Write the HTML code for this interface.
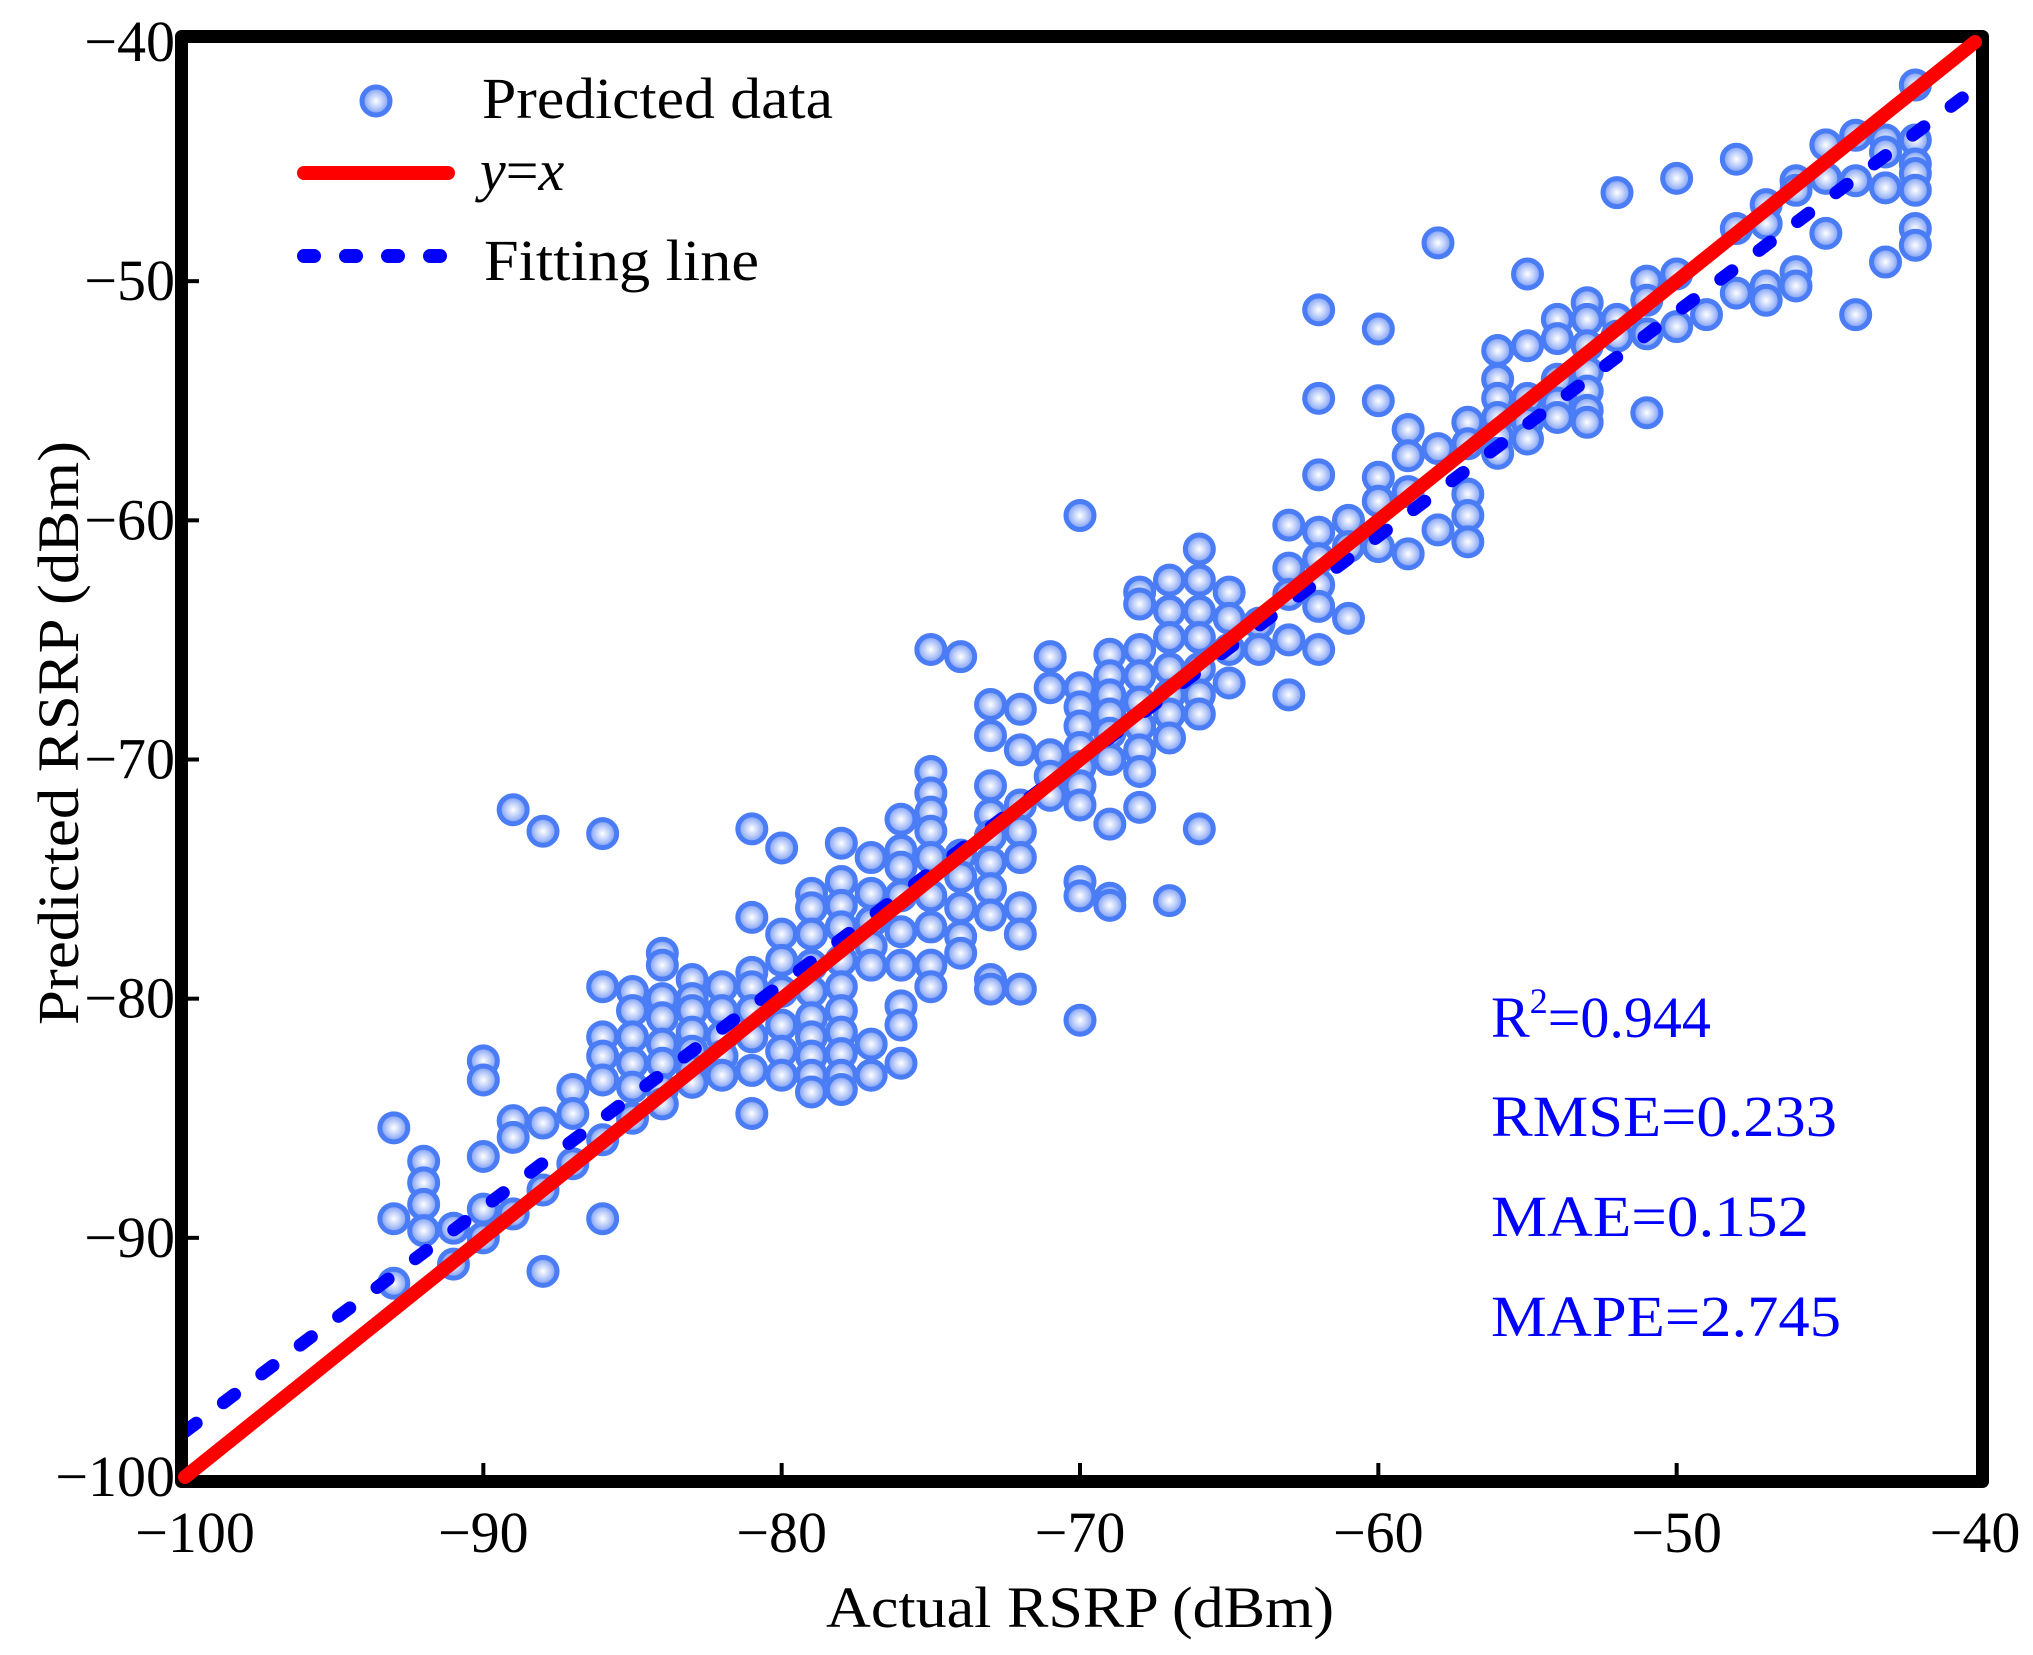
<!DOCTYPE html>
<html><head><meta charset="utf-8"><style>
html,body{margin:0;padding:0;background:#fff;}
svg{display:block;font-family:"Liberation Serif",serif;}
</style></head><body>
<svg id="chart" width="2033" height="1655" viewBox="0 0 2033 1655" xmlns="http://www.w3.org/2000/svg">
<defs>
<radialGradient id="mg" cx="50%" cy="50%" r="50%">
<stop offset="0" stop-color="#ffffff"/><stop offset="0.5" stop-color="#bccdfa"/><stop offset="1" stop-color="#6f95f5"/>
</radialGradient>
<clipPath id="plotclip"><rect x="185" y="42" width="1790" height="1435"/></clipPath>
</defs>
<g id="points" clip-path="url(#plotclip)"></g>
<g id="lines" clip-path="url(#plotclip)"></g>
<rect x="181.5" y="36.5" width="1801" height="1445" fill="none" stroke="#000" stroke-width="13" stroke-linejoin="round"/>
<g id="ticks"></g>
<text x="826" y="1627" font-size="58" textLength="508" lengthAdjust="spacingAndGlyphs">Actual RSRP (dBm)</text>
<text transform="translate(78,1025) rotate(-90)" font-size="58" textLength="584" lengthAdjust="spacingAndGlyphs">Predicted RSRP (dBm)</text>
<g>
<circle cx="376" cy="101" r="14" fill="url(#mg)" stroke="#4a7cf5" stroke-width="5"/>
<text x="482" y="118" font-size="58" textLength="351" lengthAdjust="spacingAndGlyphs">Predicted data</text>
<line x1="304" y1="173" x2="448" y2="173" stroke="#ff0000" stroke-width="14" stroke-linecap="round"/>
<text x="480" y="190" font-size="58" font-style="italic">y<tspan font-style="normal">=</tspan>x</text>
<line x1="304" y1="256" x2="448" y2="256" stroke="#0000ff" stroke-width="14" stroke-linecap="round" stroke-dasharray="10 32"/>
<text x="484" y="280" font-size="58" textLength="275" lengthAdjust="spacingAndGlyphs">Fitting line</text>
</g>
<g fill="#0000ff" font-size="58">
<text x="1491" y="1037">R<tspan font-size="36" dy="-24">2</tspan><tspan dy="24">=0.944</tspan></text>
<text x="1491" y="1136" textLength="346" lengthAdjust="spacingAndGlyphs">RMSE=0.233</text>
<text x="1491" y="1236" textLength="318" lengthAdjust="spacingAndGlyphs">MAE=0.152</text>
<text x="1491" y="1336" textLength="350" lengthAdjust="spacingAndGlyphs">MAPE=2.745</text>
</g>
</svg>
<script>
const xTicks = [-100,-90,-80,-70,-60,-50,-40];
const yTicks = [-100,-90,-80,-70,-60,-50,-40];
const xLabels = ["\u2212100","\u221290","\u221280","\u221270","\u221260","\u221250","\u221240"];
const yLabels = ["\u2212100","\u221290","\u221280","\u221270","\u221260","\u221250","\u221240"];
const fitSlope = 0.936;
const fitIntercept = -4.5;
const actualCols = [-93,-92,-91,-90,-89,-88,-87,-86,-85,-84,-83,-82,-81,-80,-79,-78,-77,-76,-75,-74,-73,-72,-71,-70,-69,-68,-67,-66,-65,-64,-63,-62,-61,-60,-59,-58,-57,-56,-55,-54,-53,-52,-51,-50,-49,-48,-47,-46,-45,-44,-43,-42];
const predictedCols = [
[-85.4,-89.2,-91.9],
[-86.8,-87.7,-88.6,-89.7],
[-89.6,-91.1],
[-82.6,-83.4,-86.6,-88.8,-90],
[-72.1,-85.1,-85.8,-89],
[-73,-85.2,-88,-91.4],
[-83.8,-84.8,-86.9],
[-73.1,-79.5,-81.6,-82.4,-83.4,-85.9,-89.2],
[-79.7,-80.5,-81.6,-82.7,-83.7,-85],
[-78.1,-78.6,-80,-80.8,-81.9,-82.7,-83.8,-84.4],
[-79.2,-80,-80.5,-81.4,-82.2,-83,-83.5],
[-79.5,-80.5,-81.6,-82.4,-83.2],
[-72.9,-76.6,-78.9,-79.5,-80.5,-81.6,-83,-84.8],
[-73.7,-77.3,-78.4,-79.7,-81.1,-82.2,-83.2],
[-75.6,-76.2,-77.3,-78.6,-79.7,-80.8,-81.6,-82.4,-83.2,-83.9],
[-73.5,-75.1,-76.1,-77,-78.4,-79.5,-80.5,-81.4,-82.3,-83.2,-83.8],
[-74.1,-75.6,-76.8,-77.8,-78.6,-81.9,-83.2],
[-72.5,-73.8,-74.5,-75.7,-77.2,-78.6,-80.3,-81.1,-82.7],
[-65.4,-70.5,-71.4,-72.2,-73,-74.1,-75.7,-77,-78.6,-79.5],
[-65.7,-74,-74.9,-76.2,-77.4,-78.1],
[-67.7,-69,-71.1,-72.3,-73.2,-74.3,-75.4,-76.5,-79.2,-79.6],
[-67.9,-69.6,-71.9,-73,-74.1,-76.2,-77.3,-79.6],
[-65.7,-67,-69.8,-70.7,-71.5],
[-59.8,-67,-67.8,-68.6,-69.5,-70.3,-71.1,-71.9,-75.1,-75.7,-80.9],
[-65.6,-66.5,-67.3,-68.1,-68.9,-70,-72.7,-75.8,-76.1],
[-63,-63.5,-65.4,-66.5,-67.6,-68.6,-69.6,-70.5,-72],
[-62.5,-63.8,-64.9,-66.2,-67.3,-68.1,-69.1,-75.9],
[-61.2,-62.5,-63.8,-64.9,-66.2,-67.3,-68.1,-72.9],
[-63,-64.1,-65.4,-66.8],
[-64.3,-65.4],
[-60.2,-62,-63.1,-65,-67.3],
[-51.2,-54.9,-58.1,-60.5,-61.6,-62.7,-63.6,-65.4],
[-60,-61.1,-64.1],
[-52,-55,-58.2,-59.2,-61.1],
[-56.2,-57.3,-58.8,-61.4],
[-48.4,-57,-60.4],
[-55.9,-56.8,-58.9,-59.8,-60.9],
[-52.9,-54.1,-54.9,-55.7,-56.5,-57.2],
[-49.7,-52.7,-54.9,-55.9,-56.6],
[-51.6,-52.4,-54.1,-55.1,-55.7],
[-50.9,-51.6,-52.7,-53.8,-54.6,-55.4,-55.9],
[-46.3,-51.6,-52.3],
[-50,-50.8,-52.2,-55.5],
[-45.7,-49.7,-51.9],
[-51.4],
[-44.9,-47.8,-50.5],
[-46.8,-47.6,-50.2,-50.8],
[-45.8,-46.2,-49.6,-50.2],
[-44.3,-45.7,-48],
[-43.9,-45.8,-51.4],
[-44.1,-44.6,-46.1,-49.2],
[-41.8,-44.1,-45.1,-45.5,-46.2,-47.8,-48.5]
];
const NS="http://www.w3.org/2000/svg";
const X0=185,X1=1975,Y0=1477,Y1=42,MIN=-100,MAX=-40;
function sx(v){return X0+(v-MIN)/(MAX-MIN)*(X1-X0);}
function sy(v){return Y0-(v-MIN)/(MAX-MIN)*(Y0-Y1);}
function mk(tag,attrs,parent){const e=document.createElementNS(NS,tag);for(const k in attrs)e.setAttribute(k,attrs[k]);parent.appendChild(e);return e;}
const pg=document.getElementById('points');
actualCols.forEach((ax,i)=>{predictedCols[i].forEach(pv=>{
  const c=mk('circle',{cx:sx(ax),cy:sy(pv),r:14,fill:'url(#mg)',stroke:'#4a7cf5','stroke-width':5},pg);
  
  
});});
const lg=document.getElementById('lines');
const fit=mk('line',{x1:sx(-100),y1:sy(fitSlope*-100+fitIntercept),x2:sx(-40),y2:sy(fitSlope*-40+fitIntercept),stroke:'#0000ff','stroke-width':13,'stroke-linecap':'round','stroke-dasharray':'14 34'},lg);


const idl=mk('line',{x1:sx(-100),y1:sy(-100),x2:sx(-40),y2:sy(-40),stroke:'#ff0000','stroke-width':14,'stroke-linecap':'round'},document.getElementById('chart'));


const tg=document.getElementById('ticks');
xTicks.forEach((t,i)=>{
  if(i>0&&i<xTicks.length-1){const l=mk('line',{x1:sx(t),y1:Y0,x2:sx(t),y2:Y0-14,stroke:'#000','stroke-width':4},tg);
  
  }
  const tx=mk('text',{x:sx(t)+(i===0?10:0),y:1552,'font-size':58,'text-anchor':'middle'},tg);tx.textContent=xLabels[i];
  
  
});
yTicks.forEach((t,i)=>{
  if(i>0&&i<yTicks.length-1){const l=mk('line',{x1:X0,y1:sy(t),x2:X0+14,y2:sy(t),stroke:'#000','stroke-width':4},tg);
  
  }
  const tx=mk('text',{x:175,y:sy(t)+19,'font-size':58,'text-anchor':'end'},tg);tx.textContent=yLabels[i];
  
  
});
</script>
</body></html>
